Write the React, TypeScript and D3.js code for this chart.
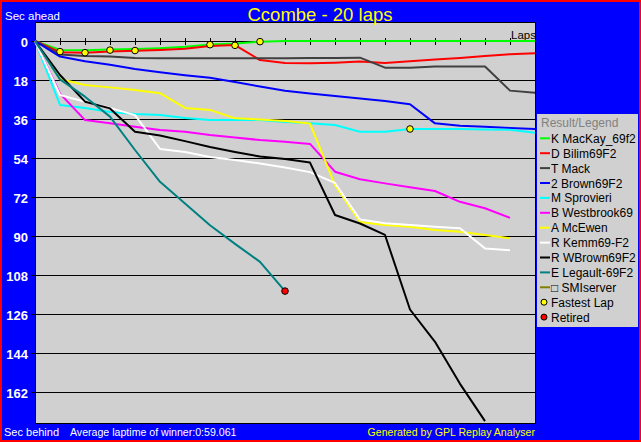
import * as d3 from "d3";
import React, { RefObject, useEffect, useRef } from "react";

// seconds behind the winner's average pace, index = lap
const mackay = [0, 4.1, 4.3, 3.9, 3.7, 3.3, 2.7, 1.6, 1.2, 0.3, 0, 0, 0, 0, 0, 0, 0, 0, 0, 0, 0];
const bilim = [0, 5.2, 5.4, 4.9, 4.5, 4.1, 3.6, 2.3, 1.9, 8.8, 10.2, 10.3, 10.0, 9.5, 10.2, 9.4, 8.5, 7.8, 6.9, 6.1, 5.7];
const mack = [0, 6.2, 6.9, 7.1, 7.9, 8.0, 8.0, 8.0, 8.0, 8.0, 8.0, 7.9, 7.8, 7.7, 12.3, 12.3, 11.8, 11.8, 11.8, 22.9, 23.9];
const brown2 = [0, 7.2, 9.3, 11.0, 12.9, 14.4, 15.8, 17.0, 18.9, 21.0, 23.0, 24.2, 25.4, 26.5, 27.7, 29.2, 38.0, 39.1, 39.6, 40.2, 40.6];
const sprovieri = [0, 29.5, 30.9, 32.8, 33.7, 34.2, 35.5, 36.5, 36.5, 36.5, 37.4, 38.0, 38.8, 41.9, 41.9, 40.6, 40.6, 40.6, 40.8, 41.0, 42.3];
const westbrook = [0, 24.3, 36.5, 38.0, 39.6, 41.1, 41.9, 43.4, 44.5, 45.7, 46.5, 47.5, 60.3, 63.8, 65.7, 67.5, 69.2, 74.2, 77.2, 81.6];
const mcewen = [0, 17.5, 20.3, 21.4, 22.6, 24.1, 30.9, 31.8, 35.7, 36.2, 36.9, 38.1, 66.5, 83.5, 84.9, 85.7, 87.2, 88.0, 89.5, 91.0];
const kemm = [0, 24.9, 28.0, 30.9, 34.2, 49.8, 51.2, 53.5, 54.9, 56.5, 58.4, 60.5, 65.5, 82.4, 84.1, 84.9, 85.7, 86.4, 95.7, 96.5];
const wbrown = [0, 15.7, 28.0, 31.1, 41.9, 43.6, 46.2, 48.9, 51.2, 53.3, 54.5, 56.1, 80.3, 84.2, 89.5, 123.9, 138.8, 158.2, 175.4];
const legault = [0, 17.7, 25.7, 34.9, 50.3, 65.0, 75.0, 85.0, 93.6, 101.9, 115.4];
const smiserver: number[] = [];

const drivers = [
  "K MacKay_69f2",
  "D Bilim69F2",
  "T Mack",
  "2 Brown69F2",
  "M Sprovieri",
  "B Westbrook69",
  "A McEwen",
  "R Kemm69-F2",
  "R WBrown69F2",
  "E Legault-69F2",
  "\u25A1 SMIserver",
];
const driverColors = [
  "#00ff00", "#ff0000", "#404040", "#0000ff", "#00ffff", "#ff00ff",
  "#ffff00", "#ffffff", "#000000", "#008080", "#808000",
];
const series = [mackay, bilim, mack, brown2, sprovieri, westbrook, mcewen, kemm, wbrown, legault, smiserver];

const fastestLapLaps = [1, 2, 3, 4, 7, 8, 9, 15];
const fastestLapSecs = [4.9, 5.4, 4.2, 4.4, 1.7, 2.0, 0.3, 40.6];
const retiredLaps = [10];
const retiredSecs = [115.4];

const yTicks = [0, 18, 36, 54, 72, 90, 108, 126, 144, 162];
const totalLaps = 20;

const W = 641;
const H = 442;
const FONT = "'Liberation Sans', Arial, sans-serif";

const LapChart = () => {
  const d3Ref: RefObject<HTMLDivElement> = useRef(null);

  useEffect(() => {
    const root = d3.select(d3Ref.current);
    root.selectAll("*").remove();
    const svg = root
      .append("svg")
      .attr("width", W)
      .attr("height", H)
      .style("position", "absolute")
      .style("left", "0px")
      .style("top", "0px")
      .style("font-family", FONT);

    // frame
    svg.append("rect").attr("x", 0).attr("y", 0).attr("width", W).attr("height", H).attr("fill", "#ff0000");
    svg.append("rect").attr("x", 2).attr("y", 2).attr("width", W - 4).attr("height", H - 4).attr("fill", "#0000ff");

    const left = 35;
    const right = 535;
    const top = 22;
    const bottom = 423;

    const x = d3.scaleLinear().domain([0, totalLaps]).range([left, right]);
    const y = d3.scaleLinear().domain([0, 176.5]).range([41, bottom + 0.5]);

    svg
      .append("rect")
      .attr("x", left + 0.5)
      .attr("y", top + 0.5)
      .attr("width", right - left)
      .attr("height", bottom - top)
      .attr("fill", "#d0d0d0")
      .attr("stroke", "#000")
      .attr("shape-rendering", "crispEdges");

    // grid
    svg
      .append("g")
      .selectAll("line")
      .data(yTicks)
      .enter()
      .append("line")
      .attr("x1", left - 4)
      .attr("x2", right)
      .attr("y1", (d) => Math.round(y(d)) + 0.5)
      .attr("y2", (d) => Math.round(y(d)) + 0.5)
      .attr("stroke", "#000")
      .attr("shape-rendering", "crispEdges");

    svg
      .append("g")
      .selectAll("line")
      .data(d3.range(1, totalLaps))
      .enter()
      .append("line")
      .attr("x1", (d) => x(d) + 0.5)
      .attr("x2", (d) => x(d) + 0.5)
      .attr("y1", y(0) - 3)
      .attr("y2", y(0) + 4)
      .attr("stroke", "#000")
      .attr("shape-rendering", "crispEdges");

    svg
      .append("g")
      .selectAll("text")
      .data(yTicks)
      .enter()
      .append("text")
      .attr("x", 28)
      .attr("y", (d) => y(d) + 1)
      .attr("text-anchor", "end")
      .attr("dominant-baseline", "central")
      .attr("fill", "#fff")
      .attr("font-weight", "bold")
      .attr("font-size", 13)
      .text((d) => d);

    svg.append("text").attr("x", 511).attr("y", 39).attr("font-size", 11.5).attr("fill", "#000").text("Laps");

    // driver lines
    const line = d3
      .line<number>()
      .x((_, i) => x(i))
      .y((d) => y(d));

    svg
      .append("g")
      .selectAll("path")
      .data(series)
      .enter()
      .append("path")
      .attr("d", (d) => (d.length ? line(d) : null))
      .attr("fill", "none")
      .attr("stroke", (_, i) => driverColors[i])
      .attr("stroke-width", 2)
      .attr("stroke-linejoin", "round");

    // fastest laps
    svg
      .append("g")
      .selectAll("circle")
      .data(fastestLapLaps)
      .enter()
      .append("circle")
      .attr("cx", (d) => x(d))
      .attr("cy", (_, i) => y(fastestLapSecs[i]))
      .attr("r", 3.3)
      .attr("fill", "#ffff00")
      .attr("stroke", "#000")
      .attr("stroke-width", 1);

    svg
      .append("g")
      .selectAll("circle")
      .data(retiredLaps)
      .enter()
      .append("circle")
      .attr("cx", (d) => x(d))
      .attr("cy", (_, i) => y(retiredSecs[i]))
      .attr("r", 3.3)
      .attr("fill", "#ff0000")
      .attr("stroke", "#000")
      .attr("stroke-width", 1);

    // titles
    svg
      .append("text")
      .attr("x", 320)
      .attr("y", 21)
      .attr("text-anchor", "middle")
      .attr("font-size", 18.5)
      .attr("fill", "#ffff00")
      .text("Ccombe - 20 laps");
    svg.append("text").attr("x", 5).attr("y", 20).attr("font-size", 11.5).attr("fill", "#fff").text("Sec ahead");
    svg.append("text").attr("x", 4).attr("y", 436).attr("font-size", 11).attr("fill", "#fff").text("Sec behind");
    svg
      .append("text")
      .attr("x", 70)
      .attr("y", 436)
      .attr("font-size", 10.6)
      .attr("fill", "#fff")
      .text("Average laptime of winner:0:59.061");
    svg
      .append("text")
      .attr("x", 535)
      .attr("y", 436)
      .attr("text-anchor", "end")
      .attr("font-size", 10.6)
      .attr("fill", "#ffff00")
      .text("Generated by GPL Replay Analyser");

    // legend
    const lg = svg.append("g");
    lg.append("rect").attr("x", 537).attr("y", 114).attr("width", 101).attr("height", 213).attr("fill", "#d0d0d0");
    lg.append("text")
      .attr("x", 541)
      .attr("y", 122.5)
      .attr("dominant-baseline", "central")
      .attr("font-size", 12)
      .attr("fill", "#808080")
      .text("Result/Legend");

    const rowY = (i: number) => 138.3 + i * 14.9;
    const rows = lg
      .selectAll("g.row")
      .data(drivers)
      .enter()
      .append("g")
      .attr("class", "row");
    rows
      .append("line")
      .attr("x1", 540)
      .attr("x2", 550)
      .attr("y1", (_, i) => rowY(i))
      .attr("y2", (_, i) => rowY(i))
      .attr("stroke", (_, i) => driverColors[i])
      .attr("stroke-width", 2);
    rows
      .append("text")
      .attr("x", 551)
      .attr("y", (_, i) => rowY(i) + 0.5)
      .attr("dominant-baseline", "central")
      .attr("font-size", 12)
      .attr("fill", "#000")
      .text((d) => d);

    const extra = [
      { label: "Fastest Lap", color: "#ffff00" },
      { label: "Retired", color: "#ff0000" },
    ];
    extra.forEach((e, k) => {
      const yy = rowY(drivers.length + k);
      lg.append("circle").attr("cx", 544).attr("cy", yy).attr("r", 3).attr("fill", e.color).attr("stroke", "#000");
      lg.append("text")
        .attr("x", 551)
        .attr("y", yy + 0.5)
        .attr("dominant-baseline", "central")
        .attr("font-size", 12)
        .attr("fill", "#000")
        .text(e.label);
    });
  }, [d3Ref]);

  return <div ref={d3Ref} />;
};

export default function App() {
  return <LapChart />;
}
